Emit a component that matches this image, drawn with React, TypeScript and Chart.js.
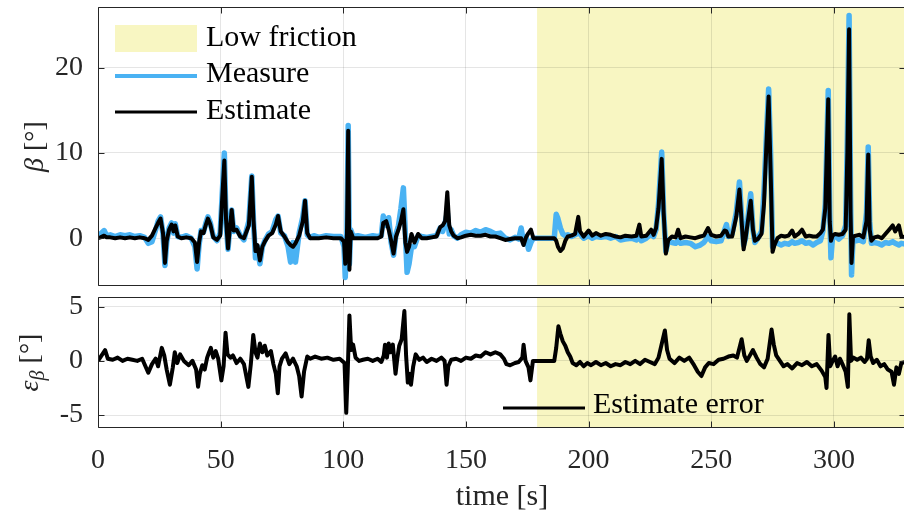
import React, { useEffect, useRef } from "react";
import { Chart, registerables } from "chart.js";

Chart.register(...registerables);

// ---------- axis ranges & ticks ----------
const X_MIN = 0;
const X_MAX = 329.4;
const X_TICKS = [0, 50, 100, 150, 200, 250, 300];
const BETA_MIN = -5.6;
const BETA_MAX = 27.1;
const BETA_TICKS = [0, 10, 20];
const ERR_MIN = -6.2;
const ERR_MAX = 5.9;
const ERR_TICKS = [-5, 0, 5];
const LOW_FRICTION_START = 179;

// ---------- top plot: sideslip angle beta [deg] ----------
const T_BETA = [
  0, 1, 2.5, 3.5, 5, 7, 9, 11, 13, 15,
  17, 19, 20.5, 22, 23.5, 24.5, 25.5, 26.5, 27.3, 28,
  29, 30, 30.8, 31.5, 32.5, 34, 36, 38, 39.5, 40.4,
  41.2, 42, 43, 44, 44.8, 45.8, 47, 48.5, 49.8, 50.6,
  51.5, 52.2, 53, 53.8, 54.5, 55.3, 56.5, 58, 59.5, 61.5,
  62.7, 63.4, 64.2, 65, 66, 67, 68, 69.5, 71, 72.5,
  73.4, 74.5, 76, 77.5, 78.5, 79.5, 80.5, 82, 83.5, 84.4,
  85.3, 86.5, 88, 90, 93, 96, 99, 100.3, 100.8, 101.5,
  102, 102.5, 103, 104, 106, 109, 112, 114, 115.5, 116.3,
  117.5, 118.5, 119.5, 120.5, 121.5, 122.5, 123.5, 124.5, 125.3, 126,
  126.8, 127.8, 129, 130.5, 132, 134, 136, 138, 139.5, 140.5,
  141.5, 142.4, 143.2, 144, 145, 146.5, 148, 150, 152, 154,
  156, 158, 160, 162, 164, 166, 168, 170, 171.5, 172.5,
  173.5, 174.5, 175.5, 176.5, 177.5, 186, 186.8, 187.5, 188.5, 189.5,
  190.5, 191.5, 193, 194.5, 195.8, 196.5, 198, 200, 201.5, 203,
  205, 207, 209, 211, 213, 215, 217.5, 219.5, 220.7, 221.5,
  223.5, 225.5, 226.5, 227.5, 228.5, 229.8, 230.6, 231.5, 232.5, 234,
  235.5, 236.5, 237.5, 239.5, 241.5, 243.5, 245.5, 247, 248.7, 250,
  252, 254, 255.5, 256.2, 257, 258.5, 260.2, 261.5, 262.5, 263.2,
  264, 265.2, 266.1, 267, 267.8, 269, 270.5, 271.5, 272.5, 273.4,
  274.2, 275, 275.8, 277, 278.5, 280, 281.5, 283, 284, 285.5,
  287, 288.5, 290, 291.5, 293, 294.5, 295.5, 296.5, 297.7, 298.3,
  298.8, 299.5, 300.5, 302, 303.5, 304.8, 305.5, 306.2, 306.8, 307.2,
  307.8, 309, 310.5, 312, 313.3, 314, 314.6, 315.3, 316.5, 318,
  319.5, 321, 322.5, 324, 325, 326.5, 327.5, 329.4,
];
const MEASURE = [
  0.2, 0.5, 0.9, 0.3, 0.4, 0.2, 0.4, 0.3, 0.4, 0.2,
  0.3, 0.1, -0.6, -0.4, 1.0, 2.0, 2.5, 0.5, -3.2, -0.5,
  1.2, 1.8, 0.6, 1.7, 0.2, 0.1, 0.3, 0, -1.0, -3.6,
  -0.8, 0.9, 0.7, 1.8, 2.5, 1.8, 0.2, -0.3, 0.6, 5.0,
  10.0, 2.0, -1.3, 1.5, 3.3, 0.8, 1.2, 0.3, -0.2, 2.0,
  7.3, 2.0, -2.3, -1.0, -3.0, -1.0, -0.3, 0.5, 0.8, 2.2,
  2.6, 0.6, 0.3, -1.0, -2.8, -0.5, -2.8, 0.6, 2.5, 4.4,
  0.4, 0.1, 0.3, 0.1, 0.3, 0.2, 0.2, -1.0, -4.6, 1.0,
  13.2, -3.0, 1.0, 0.2, 0.3, 0.1, 0.3, 0.2, 0.3, 2.6,
  1.5, 2.4, -0.5, -2.0, 0.5, 1.5, 3.5, 5.9, 0.5, -4.0,
  -3.0, -1.0, -1.0, 0.3, 0.2, 0.1, 0.2, 0.3, 1.2, 0.8,
  1.8, 3.0, 0.5, 1.0, 0.3, 0, 0.4, 0.7, 0.6, 0.9,
  0.7, 1.0, 0.8, 0.5, 0.6, 0, -0.2, 0.1, -0.1, 1.2,
  -0.6, 0.2, -1.3, -0.5, 0, 0, 2.8, 2.3, 1.2, 0.5,
  0.3, 0.4, 0.2, 0.4, 0.6, 0.5, 0, 0.3, 0, 0.2,
  0.1, 0.2, 0, 0.2, -0.2, -0.1, 0, -0.2, 0.3, -0.3,
  0, 0.5, 0.2, 1.0, 4.0, 10.1, 3.0, -1.5, -0.3, -0.5,
  -0.6, -0.3, -0.6, -0.5, -0.6, -1.0, -0.8, -0.5, 0.2, -0.3,
  -0.4, -0.3, 1.0, 1.6, 0.2, 0.5, 3.0, 6.6, 2.0, -0.8,
  0, 3.0, 5.2, 1.0, -0.5, 0, 0.8, 5.5, 12.0, 17.5,
  10.0, -1.0, -0.5, -0.6, -0.8, -0.6, -0.7, -0.4, -0.6, -0.5,
  -0.3, -0.6, -0.5, -0.8, -0.5, -0.3, 0.8, 4.0, 17.3, 3.0,
  -2.3, 0.3, 0.3, -0.1, 0.3, 1.5, 12.0, 26.1, 5.0, -4.3,
  0, -0.3, -0.2, -0.4, 3.0, 10.7, 2.0, -0.6, -0.5, -0.6,
  -0.8, -0.5, -0.6, -0.4, -0.6, -0.8, -0.6, -0.7,
];
const ESTIMATE = [
  0, 0.1, 0.3, 0.1, 0.1, 0, 0.1, 0, 0.1, 0,
  0.1, 0, -0.2, 0.3, 1.2, 1.8, 2.3, 0.6, -2.9, -0.3,
  1.0, 1.6, 0.8, 1.5, 0.2, 0, 0.1, 0, -0.5, -2.8,
  -0.5, 0.8, 0.6, 1.6, 2.3, 1.6, 0.1, -0.2, 0.3, 4.5,
  9.1, 2.2, -1.2, 1.3, 3.3, 0.9, 1.0, 0.2, 0, 1.5,
  7.2, 2.1, -1.5, -0.8, -2.6, -1.0, -0.4, 0.3, 0.6, 1.6,
  2.6, 0.8, 0.2, -0.5, -0.8, -1.0, -0.6, 0.3, 2.0, 4.4,
  0.6, 0, 0, 0, 0.1, 0, 0, -0.4, -3.0, 0.5,
  12.6, -3.7, 0.8, 0, 0, 0, 0, 0, 0.2, 1.8,
  2.0, 1.0, -0.3, -1.8, 0.2, 1.0, 2.0, 3.4, -0.5, -1.6,
  -1.0, 0.5, -0.5, 0.5, 0, 0, 0.1, 0.2, 1.3, 1.5,
  2.0, 5.4, 1.5, 0.8, 0.3, 0, 0.1, 0.3, 0.4, 0.3,
  0.3, 0.4, 0.2, 0.2, 0, -0.2, -0.1, 0, 0, 0,
  -0.8, 0.1, 0.6, 1.0, 0, 0, -0.3, -1.0, -1.5, -1.2,
  -0.3, 0.2, 0.3, 0.5, 2.5, 0.8, 0.2, 0.9, 0.3, 0.6,
  0.3, 0.5, 0.4, 0.2, 0.1, 0.3, 0.2, 0.3, 1.6, 0.2,
  0.3, 1.0, 0.4, 1.2, 3.5, 9.3, 3.0, -1.8, -0.2, 0.2,
  0.1, 1.0, 0, 0.2, 0.1, 0, 0.2, 0.3, 1.2, 0.4,
  0.2, 0.3, 0.9, 0.8, 0.2, 0.2, 2.5, 5.7, 1.5, -1.3,
  0, 2.5, 4.4, 1.0, -0.3, -0.1, 0.5, 4.0, 11.0, 16.6,
  8.0, -1.6, -0.8, 0, 0.3, 0.2, 0.3, 0.9, 0.2, 0.5,
  1.0, 0.2, 0.3, 0.2, 0.2, 0.6, 1.0, 3.5, 16.3, 2.0,
  -0.3, 0.3, 0.5, 0.4, 0.5, 1.0, 10.0, 24.5, 3.0, -2.9,
  0.2, 0.3, 0.4, 0.1, 2.0, 9.8, 1.0, -0.3, 0.1, 0.2,
  0, 0.5, 1.0, 1.5, 0.8, 1.5, 0.2, 0.1,
];

// ---------- bottom plot: estimate error [deg] ----------
const T_ERR = [
  0, 2.9, 4, 6, 8, 10, 12, 14, 16, 18,
  20.5, 22, 23.5, 24.5, 26, 27, 28, 29.3, 30.5, 31.3,
  32.3, 33.5, 35, 37, 38.5, 40, 40.8, 41.5, 42.5, 43.5,
  44.5, 45.3, 46, 47, 48, 49, 50.3, 51.2, 52, 52.8,
  54, 55, 56.5, 58, 59.5, 61.3, 62.3, 63.3, 64.2, 65,
  66, 67, 68, 69, 70.5, 71.5, 72.5, 73.3, 74, 75,
  76.5, 78, 79.5, 81, 82, 83, 84, 85.3, 86.5, 88.5,
  91, 93.5, 96, 98.5, 100.5, 101.2, 101.8, 102.5, 103.2, 104,
  105, 106.5, 108, 110, 112, 114, 115.5, 116.5, 117, 117.8,
  118.5, 119.3, 120.2, 121.3, 122, 122.8, 123.8, 124.9, 125.6, 126.3,
  127, 127.6, 128.5, 129.5, 131, 132.5, 134, 136, 138, 140,
  141.3, 142.1, 142.8, 144, 146, 148, 150, 152, 154, 156,
  158, 160, 162, 164, 165.5, 166.5, 168, 170, 171.5, 173,
  173.5, 174.3, 175.5, 176.3, 177.3, 186, 186.8, 187.7, 188.5, 189.5,
  190.5, 191.5, 192.5, 193.5, 195, 196.5, 198, 199.5, 201, 203,
  205, 207, 209, 211, 213, 215, 217, 219, 221, 223,
  225, 227, 228.5, 231.1, 232, 233, 235, 237, 239, 241,
  243, 244.5, 246, 247.5, 249, 251, 253, 255, 257, 259,
  260.5, 262.4, 263.5, 264.5, 266, 267, 268.5, 270, 271.5, 273,
  274.6, 275.5, 276.5, 278, 279.5, 281, 283, 285, 287, 289,
  291, 293, 295, 296.5, 297, 297.8, 298.5, 299.5, 300.5, 301.5,
  302.5, 303.5, 304.8, 305.7, 306.3, 307, 308, 309.5, 311, 312.5,
  313.5, 314.2, 315, 316, 317.5, 319, 320.5, 322, 323.5, 324.5,
  325.5, 326.5, 327.5, 329.4,
];
const ERROR = [
  0, 1.0, 0.2, 0.1, 0.3, 0, 0.2, 0.1, 0, 0.2,
  -1.1, -0.3, 0.2, -0.5, 1.2, 0.5, -0.8, -2.2, -0.6, 0.8,
  -0.2, 0.6, 0, -0.4, 0, -0.8, -2.4, -1.2, -0.4, -0.8,
  0.3, 0.8, 1.2, 0.3, 0.9, 0.2, -1.8, -0.5, 2.6, 0.6,
  0.3, 0.5, -0.2, 0.2, -0.3, -2.4, -0.3, 2.4, 0.8, 0.3,
  1.6, 0.8, 1.4, 0.5, 0.9, -0.3, -1.2, -3.0, -0.5, 0.2,
  0.7, -0.3, 0.2, -0.5, -1.4, -3.3, -1.0, 0.4, 0.2, 0.4,
  0.2, 0.3, 0.1, 0.2, -0.2, -4.8, -1.0, 4.2, 1.0, 1.5,
  0.3, 0, 0.1, 0.2, 0, 0.2, -0.1, 0.5, 1.5, 0.3,
  1.6, 0.8, 1.5, -1.2, 0.2, 1.4, 2.0, 4.6, 0.5, -2.0,
  -1.2, -2.2, -0.5, 0.6, 0.1, 0.3, -0.1, 0.2, 0, 0.3,
  0, -2.2, -0.5, 0.1, 0.2, 0, 0.3, 0.2, 0.5, 0.4,
  0.8, 0.6, 0.8, 0.6, 0.2, -0.3, -0.4, -0.2, -0.1, 0.3,
  1.5, 0, -0.6, -1.8, 0, 0, 1.2, 3.2, 2.5, 1.8,
  1.4, 0.8, 0.4, -0.2, -0.4, -0.1, -0.5, -0.2, -0.4, -0.1,
  -0.4, -0.2, -0.5, -0.3, -0.4, -0.1, -0.3, 0, -0.3, 0.1,
  -0.1, -0.3, 0.3, 2.8, 1.0, 0.2, -0.2, 0.3, 0, 0.3,
  -0.4, -1.0, -1.4, -0.6, -0.2, -0.3, 0.1, 0.2, 0.4, 0.5,
  0.3, 2.0, 0.5, 0, 0.6, 1.0, 0.3, -0.3, -0.6, 0.2,
  2.9, 1.5, 0.5, 0, -0.5, -0.3, -0.7, -0.2, -0.4, -0.1,
  -0.5, -0.3, -0.9, -1.5, -2.5, 2.4, -0.5, 0, 0.4, -0.5,
  0.2, -0.3, -1.0, -2.4, 4.3, 0, 0.3, 0.1, 0.3, -0.1,
  0.2, 1.9, 0.4, -0.2, 0.1, -0.5, -0.3, -0.8, -1.0, -2.2,
  -0.6, -1.2, -0.2, -0.1,
];

// ---------- styles ----------
const FONT = '"Liberation Serif", "Times New Roman", Times, serif';
const AXIS_COLOR = "#262626";
const GRID_COLOR = "rgba(0,0,0,0.10)";
const YELLOW = "rgb(248,246,194)";
const BLUE = "#4ab2f3";
const BLACK = "#000000";

const CANVAS_W = 906;
const TOP_H = 295;
const BOT_TOP = 288;
const BOT_H = 235;

function zip(xs: number[], ys: number[]) {
  const n = Math.min(xs.length, ys.length);
  const out: { x: number; y: number }[] = [];
  for (let i = 0; i < n; i++) out.push({ x: xs[i], y: ys[i] });
  return out;
}

type Part = { text: string; font: string; dy: number };

function drawRotatedTitle(ctx: CanvasRenderingContext2D, cx: number, cy: number, parts: Part[]) {
  ctx.save();
  ctx.translate(cx, cy);
  ctx.rotate(-Math.PI / 2);
  ctx.textAlign = "left";
  ctx.textBaseline = "alphabetic";
  ctx.fillStyle = AXIS_COLOR;
  let total = 0;
  const widths = parts.map((p) => {
    ctx.font = p.font;
    const w = ctx.measureText(p.text).width;
    total += w;
    return w;
  });
  let u = -total / 2;
  parts.forEach((p, i) => {
    ctx.font = p.font;
    ctx.fillText(p.text, u, p.dy);
    u += widths[i];
  });
  ctx.restore();
}

function makeFramePlugin(kind: "beta" | "err") {
  return {
    id: "frame_" + kind,
    beforeDraw(chart: any) {
      const { ctx, chartArea: a, scales } = chart;
      const x0 = Math.max(a.left, scales.x.getPixelForValue(LOW_FRICTION_START));
      ctx.save();
      ctx.fillStyle = YELLOW;
      ctx.fillRect(x0, a.top, a.right - x0, a.bottom - a.top);
      ctx.restore();
    },
    afterDraw(chart: any) {
      const { ctx, chartArea: a, scales } = chart;
      const x = scales.x;
      const y = scales.y;
      ctx.save();
      // box
      ctx.strokeStyle = AXIS_COLOR;
      ctx.lineWidth = 1;
      const L = Math.round(a.left) + 0.5;
      const R = Math.round(a.right) - 0.5;
      const T = Math.round(a.top) + 0.5;
      const B = Math.round(a.bottom) - 0.5;
      ctx.beginPath();
      ctx.moveTo(L, T);
      ctx.lineTo(R, T);
      ctx.lineTo(R, B);
      ctx.lineTo(L, B);
      ctx.closePath();
      ctx.stroke();
      // inward tick marks
      const TK = 6;
      ctx.beginPath();
      for (const t of x.ticks) {
        const px = Math.round(x.getPixelForValue(t.value)) + 0.5;
        ctx.moveTo(px, B);
        ctx.lineTo(px, B - TK);
        ctx.moveTo(px, T);
        ctx.lineTo(px, T + TK);
      }
      for (const t of y.ticks) {
        const py = Math.round(y.getPixelForValue(t.value)) + 0.5;
        ctx.moveTo(L, py);
        ctx.lineTo(L + TK, py);
        ctx.moveTo(R, py);
        ctx.lineTo(R - TK, py);
      }
      ctx.stroke();

      const midY = (a.top + a.bottom) / 2;
      if (kind === "beta") {
        drawRotatedTitle(ctx, 34, midY, [
          { text: "β", font: `italic 28px ${FONT}`, dy: 9 },
          { text: " [°]", font: `28px ${FONT}`, dy: 9 },
        ]);
        // legend
        ctx.fillStyle = YELLOW;
        ctx.fillRect(115, 25, 82, 27);
        ctx.lineCap = "butt";
        ctx.strokeStyle = BLUE;
        ctx.lineWidth = 4;
        ctx.beginPath();
        ctx.moveTo(115, 76);
        ctx.lineTo(197, 76);
        ctx.stroke();
        ctx.strokeStyle = BLACK;
        ctx.lineWidth = 3;
        ctx.beginPath();
        ctx.moveTo(115, 112);
        ctx.lineTo(197, 112);
        ctx.stroke();
        ctx.fillStyle = "#000";
        ctx.font = `30px ${FONT}`;
        ctx.textAlign = "left";
        ctx.textBaseline = "alphabetic";
        ctx.fillText("Low friction", 206, 46);
        ctx.fillText("Measure", 206, 82);
        ctx.fillText("Estimate", 206, 119);
      } else {
        drawRotatedTitle(ctx, 33, midY, [
          { text: "ε", font: `italic 28px ${FONT}`, dy: 5 },
          { text: "β", font: `italic 20px ${FONT}`, dy: 11 },
          { text: " [°]", font: `28px ${FONT}`, dy: 5 },
        ]);
        const ly = 408 - BOT_TOP;
        ctx.strokeStyle = BLACK;
        ctx.lineWidth = 3;
        ctx.beginPath();
        ctx.moveTo(503, ly);
        ctx.lineTo(585, ly);
        ctx.stroke();
        ctx.fillStyle = "#000";
        ctx.font = `30px ${FONT}`;
        ctx.textAlign = "left";
        ctx.textBaseline = "alphabetic";
        ctx.fillText("Estimate error", 593, 413 - BOT_TOP);
      }
      ctx.restore();
    },
  };
}

function clearPadding(s: any) {
  s.paddingTop = 0;
  s.paddingBottom = 0;
  s.paddingLeft = 0;
  s.paddingRight = 0;
}

function xScale(showLabels: boolean) {
  return {
    type: "linear" as const,
    min: X_MIN,
    max: X_MAX,
    afterBuildTicks: (s: any) => {
      s.ticks = X_TICKS.map((v) => ({ value: v }));
    },
    afterFit: (s: any) => {
      s.height = showLabels ? 95 : 0;
      clearPadding(s);
    },
    grid: { color: GRID_COLOR, lineWidth: 1, drawTicks: false },
    border: { display: false },
    ticks: {
      display: showLabels,
      color: AXIS_COLOR,
      font: { family: FONT, size: 28 },
      padding: 16,
      maxRotation: 0,
      callback: (v: any) => String(v),
    },
    title: {
      display: showLabels,
      text: "time [s]",
      color: AXIS_COLOR,
      font: { family: FONT, size: 30 },
      padding: { top: 0, bottom: 8 },
    },
  };
}

function yScale(min: number, max: number, ticks: number[]) {
  return {
    type: "linear" as const,
    min,
    max,
    afterBuildTicks: (s: any) => {
      s.ticks = ticks.map((v) => ({ value: v }));
    },
    afterFit: (s: any) => {
      s.width = 98;
      clearPadding(s);
    },
    grid: { color: GRID_COLOR, lineWidth: 1, drawTicks: false },
    border: { display: false },
    ticks: {
      color: AXIS_COLOR,
      font: { family: FONT, size: 28 },
      padding: 15,
      callback: (v: any) => String(v),
    },
  };
}

export default function App() {
  const topRef = useRef<HTMLCanvasElement>(null);
  const botRef = useRef<HTMLCanvasElement>(null);

  useEffect(() => {
    const common = {
      animation: false as const,
      responsive: false,
      devicePixelRatio: 1,
      events: [] as any[],
      elements: { point: { radius: 0 }, line: { tension: 0 } },
    };
    const top = new Chart(topRef.current as HTMLCanvasElement, {
      type: "line",
      data: {
        datasets: [
          {
            label: "Estimate",
            data: zip(T_BETA, ESTIMATE),
            borderColor: BLACK,
            borderWidth: 4,
            order: 0,
            pointRadius: 0,
            borderJoinStyle: "round",
            fill: false,
          },
          {
            label: "Measure",
            data: zip(T_BETA, MEASURE),
            borderColor: BLUE,
            borderWidth: 5.5,
            order: 1,
            pointRadius: 0,
            borderJoinStyle: "round",
            fill: false,
          },
        ],
      },
      options: {
        ...common,
        layout: { autoPadding: false, padding: { top: 7, bottom: 9, left: 0, right: 0 } },
        plugins: { legend: { display: false }, tooltip: { enabled: false } },
        scales: { x: xScale(false), y: yScale(BETA_MIN, BETA_MAX, BETA_TICKS) },
      } as any,
      plugins: [makeFramePlugin("beta")],
    });
    const bot = new Chart(botRef.current as HTMLCanvasElement, {
      type: "line",
      data: {
        datasets: [
          {
            label: "Estimate error",
            data: zip(T_ERR, ERROR),
            borderColor: BLACK,
            borderWidth: 4,
            pointRadius: 0,
            borderJoinStyle: "round",
            fill: false,
          },
        ],
      },
      options: {
        ...common,
        layout: { autoPadding: false, padding: { top: 297 - BOT_TOP, bottom: 0, left: 0, right: 0 } },
        plugins: { legend: { display: false }, tooltip: { enabled: false } },
        scales: { x: xScale(true), y: yScale(ERR_MIN, ERR_MAX, ERR_TICKS) },
      } as any,
      plugins: [makeFramePlugin("err")],
    });
    return () => {
      top.destroy();
      bot.destroy();
    };
  }, []);

  return (
    <div
      style={{
        position: "absolute",
        left: 0,
        top: 0,
        width: 904,
        height: 523,
        overflow: "hidden",
        background: "#ffffff",
      }}
    >
      <canvas
        ref={topRef}
        width={CANVAS_W}
        height={TOP_H}
        style={{ position: "absolute", left: 0, top: 0, width: CANVAS_W, height: TOP_H }}
      />
      <canvas
        ref={botRef}
        width={CANVAS_W}
        height={BOT_H}
        style={{ position: "absolute", left: 0, top: BOT_TOP, width: CANVAS_W, height: BOT_H }}
      />
    </div>
  );
}
